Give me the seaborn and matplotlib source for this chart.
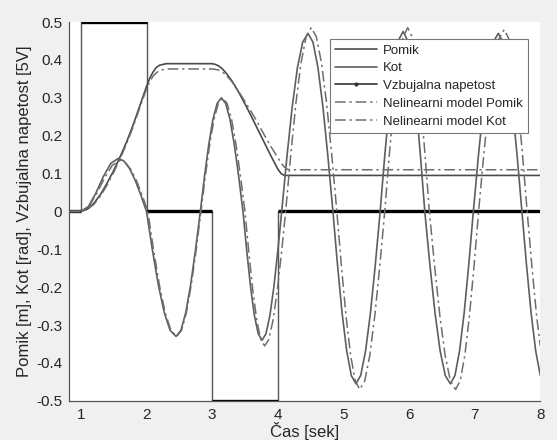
import seaborn as sns
import matplotlib.pyplot as plt
from matplotlib.lines import Line2D
import numpy as np

sns.set_style("white")
plt.rcParams['font.family'] = ['Liberation Sans', 'DejaVu Sans']
plt.rcParams['axes.unicode_minus'] = False

# ---------------- data ----------------
# excitation voltage (step signal)
step_t = [0.82, 1.0, 1.0, 2.0, 2.0, 3.0, 3.0, 4.0, 4.0, 8.0]
step_v = [0.0, 0.0, 0.5, 0.5, 0.0, 0.0, -0.5, -0.5, 0.0, 0.0]

# Pomik (linear model)
pomik_t = [0.82, 1.0, 1.1, 1.2, 1.3, 1.4, 1.5, 1.6, 1.7, 1.8, 1.9, 2.0, 2.05, 2.1,
           2.15, 2.2, 2.3, 3.0, 3.05, 3.1, 3.15, 3.2, 3.3, 3.4, 3.5, 3.6, 3.7, 3.8,
           3.9, 4.0, 4.05, 4.1, 8.0]
pomik_y = [0.0, 0.0, 0.006, 0.022, 0.045, 0.075, 0.108, 0.145, 0.185, 0.23, 0.28, 0.33,
           0.352, 0.368, 0.38, 0.386, 0.39, 0.39, 0.388, 0.384, 0.377, 0.368, 0.345,
           0.316, 0.284, 0.25, 0.215, 0.18, 0.145, 0.112, 0.1, 0.095, 0.095]

# Pomik (nonlinear model)
nl_pomik_t = [0.82, 1.0, 1.1, 1.2, 1.3, 1.4, 1.5, 1.6, 1.7, 1.8, 1.9, 2.0, 2.05, 2.1,
              2.15, 2.2, 2.3, 3.0, 3.05, 3.1, 3.15, 3.2, 3.3, 3.4, 3.5, 3.6, 3.7, 3.8,
              3.9, 4.0, 4.05, 4.1, 4.15, 4.2, 8.0]
nl_pomik_y = [0.0, 0.0, 0.005, 0.019, 0.041, 0.07, 0.103, 0.14, 0.18, 0.225, 0.275, 0.323,
              0.343, 0.357, 0.366, 0.372, 0.376, 0.376, 0.375, 0.373, 0.369, 0.362, 0.343,
              0.318, 0.29, 0.262, 0.232, 0.2, 0.17, 0.142, 0.128, 0.117, 0.111, 0.11, 0.11]

# Kot (linear model)
kot_t = [0.82, 1.0, 1.114, 1.228, 1.342, 1.456, 1.57,
         1.656, 1.742, 1.828, 1.914, 2.0,
         2.09, 2.18, 2.27, 2.36, 2.45,
         2.524, 2.598, 2.672, 2.746, 2.82,
         2.884, 2.948, 3.012, 3.076, 3.14,
         3.206, 3.272, 3.338, 3.404, 3.47,
         3.528, 3.586, 3.644, 3.702, 3.76,
         3.82, 3.88, 3.94, 4.0, 4.06,
         4.14, 4.22, 4.3, 4.38, 4.46,
         4.536, 4.612, 4.688, 4.764, 4.84,
         4.91, 4.98, 5.05, 5.12, 5.19,
         5.264, 5.338, 5.412, 5.486, 5.56,
         5.63, 5.7, 5.77, 5.84, 5.91,
         5.976, 6.042, 6.108, 6.174, 6.24,
         6.318, 6.396, 6.474, 6.552, 6.63,
         6.7, 6.77, 6.84, 6.91, 6.98,
         7.056, 7.132, 7.208, 7.284, 7.36,
         7.432, 7.504, 7.576, 7.648, 7.72,
         7.79, 7.86, 7.93, 8.0]
kot_y = [0.0, 0.0, 0.013, 0.048, 0.092, 0.127, 0.14,
         0.133, 0.113, 0.082, 0.043, 0.0,
         -0.102, -0.194, -0.267, -0.314, -0.33,
         -0.314, -0.267, -0.194, -0.102, 0.0,
         0.093, 0.176, 0.243, 0.285, 0.30,
         0.285, 0.243, 0.176, 0.093, 0.0,
         -0.105, -0.2, -0.275, -0.323, -0.34,
         -0.323, -0.275, -0.2, -0.105, 0.0,
         0.145, 0.276, 0.38, 0.447, 0.47,
         0.447, 0.38, 0.276, 0.145, 0.0,
         -0.141, -0.268, -0.368, -0.433, -0.455,
         -0.433, -0.368, -0.268, -0.141, 0.0,
         0.147, 0.279, 0.384, 0.452, 0.475,
         0.452, 0.384, 0.279, 0.147, 0.0,
         -0.141, -0.268, -0.368, -0.433, -0.455,
         -0.433, -0.368, -0.268, -0.141, 0.0,
         0.145, 0.276, 0.38, 0.447, 0.47,
         0.447, 0.38, 0.276, 0.145, 0.0,
         -0.141, -0.268, -0.368, -0.433]

# Kot (nonlinear model)
nl_kot_t = [0.82, 1.0, 1.12, 1.24, 1.36, 1.48, 1.6,
            1.684, 1.768, 1.852, 1.936, 2.02,
            2.108, 2.196, 2.284, 2.372, 2.46,
            2.534, 2.608, 2.682, 2.756, 2.83,
            2.896, 2.962, 3.028, 3.094, 3.16,
            3.228, 3.296, 3.364, 3.432, 3.5,
            3.56, 3.62, 3.68, 3.74, 3.8,
            3.864, 3.928, 3.992, 4.056, 4.12,
            4.198, 4.276, 4.354, 4.432, 4.51,
            4.588, 4.666, 4.744, 4.822, 4.9,
            4.97, 5.04, 5.11, 5.18, 5.25,
            5.326, 5.402, 5.478, 5.554, 5.63,
            5.7, 5.77, 5.84, 5.91, 5.98,
            6.046, 6.112, 6.178, 6.244, 6.31,
            6.39, 6.47, 6.55, 6.63, 6.71,
            6.78, 6.85, 6.92, 6.99, 7.06,
            7.138, 7.216, 7.294, 7.372, 7.45,
            7.52, 7.59, 7.66, 7.73, 7.8,
            7.872, 7.944, 8.0]
nl_kot_y = [0.0, 0.0, 0.013, 0.047, 0.088, 0.122, 0.135,
            0.128, 0.109, 0.079, 0.042, 0.0,
            -0.102, -0.194, -0.267, -0.314, -0.33,
            -0.314, -0.267, -0.194, -0.102, 0.0,
            0.093, 0.176, 0.243, 0.285, 0.30,
            0.285, 0.243, 0.176, 0.093, 0.0,
            -0.11, -0.209, -0.287, -0.338, -0.355,
            -0.338, -0.287, -0.209, -0.11, 0.0,
            0.15, 0.285, 0.392, 0.461, 0.485,
            0.461, 0.392, 0.285, 0.15, 0.0,
            -0.145, -0.276, -0.38, -0.447, -0.47,
            -0.447, -0.38, -0.276, -0.145, 0.0,
            0.15, 0.285, 0.392, 0.461, 0.485,
            0.461, 0.392, 0.285, 0.15, 0.0,
            -0.145, -0.276, -0.38, -0.447, -0.47,
            -0.447, -0.38, -0.276, -0.145, 0.0,
            0.148, 0.282, 0.388, 0.456, 0.48,
            0.456, 0.388, 0.282, 0.148, 0.0,
            -0.145, -0.276, -0.355]

xticks = [1, 2, 3, 4, 5, 6, 7, 8]
yticks = [-0.5, -0.4, -0.3, -0.2, -0.1, 0, 0.1, 0.2, 0.3, 0.4, 0.5]
ytick_labels = ['-0.5', '-0.4', '-0.3', '-0.2', '-0.1', '0', '0.1', '0.2', '0.3', '0.4', '0.5']

# ---------------- plot ----------------
fig = plt.figure(figsize=(5.57, 4.40), dpi=100, facecolor='#f0f0f0')
ax = fig.add_axes([0.124, 0.089, 0.846, 0.861])
ax.set_facecolor('white')

dashdot = (0, (7, 2.5, 1.5, 2.5))
c_pomik = '#4a4a4a'
c_kot = '#5e5e5e'
c_nl = '#6e6e6e'

# excitation: thin verticals, thick horizontals
sns.lineplot(x=step_t, y=step_v, ax=ax, color='#555555', linewidth=1.0,
             estimator=None, sort=False)
thick_t = [0.82, 1.0, np.nan, 1.0, 2.0, np.nan, 2.0, 3.0, np.nan, 3.0, 4.0, np.nan, 4.0, 8.0]
thick_v = [0.0, 0.0, np.nan, 0.5, 0.5, np.nan, 0.0, 0.0, np.nan, -0.5, -0.5, np.nan, 0.0, 0.0]
ax.plot(thick_t, thick_v, color='black', linewidth=2.4, solid_capstyle='butt')

sns.lineplot(x=pomik_t, y=pomik_y, ax=ax, color=c_pomik, linewidth=1.2,
             estimator=None, sort=False)
sns.lineplot(x=kot_t, y=kot_y, ax=ax, color=c_kot, linewidth=1.2,
             estimator=None, sort=False)
sns.lineplot(x=nl_pomik_t, y=nl_pomik_y, ax=ax, color=c_nl, linewidth=1.1,
             linestyle=dashdot, estimator=None, sort=False)
sns.lineplot(x=nl_kot_t, y=nl_kot_y, ax=ax, color=c_nl, linewidth=1.1,
             linestyle=dashdot, estimator=None, sort=False)

ax.set_xlim(0.82, 8.0)
ax.set_ylim(-0.5, 0.5)
ax.set_xticks(xticks)
ax.set_xticklabels([str(v) for v in xticks])
ax.set_yticks(yticks)
ax.set_yticklabels(ytick_labels)
ax.tick_params(direction='in', length=3, width=0.8, colors='#262626',
               labelsize=11, labelcolor='#262626', pad=5)

for side in ['top', 'right']:
    ax.spines[side].set_visible(False)
for side in ['left', 'bottom']:
    ax.spines[side].set_color('#555555')
    ax.spines[side].set_linewidth(0.9)

ax.set_xlabel('Čas [sek]', fontsize=12, color='#262626', labelpad=0)
ax.set_ylabel('Pomik [m], Kot [rad], Vzbujalna napetost [5V]', fontsize=12,
              color='#262626', labelpad=3)

handles = [
    Line2D([], [], color=c_pomik, linewidth=1.2),
    Line2D([], [], color=c_kot, linewidth=1.2),
    Line2D([], [], color='#333333', linewidth=1.2, marker='.', markersize=4),
    Line2D([], [], color=c_nl, linewidth=1.1, linestyle=dashdot),
    Line2D([], [], color=c_nl, linewidth=1.1, linestyle=dashdot),
]
labels = ['Pomik', 'Kot', 'Vzbujalna napetost', 'Nelinearni model Pomik', 'Nelinearni model Kot']
leg = ax.legend(handles, labels, loc='upper right', bbox_to_anchor=(0.973, 0.955),
                fontsize=9.5, frameon=True, fancybox=False, framealpha=1,
                edgecolor='#777777', handlelength=3.2, handletextpad=0.4,
                labelspacing=0.42, borderpad=0.4, borderaxespad=0)
leg.get_frame().set_linewidth(0.8)

fig.savefig('out.png', dpi=100, facecolor=fig.get_facecolor())
